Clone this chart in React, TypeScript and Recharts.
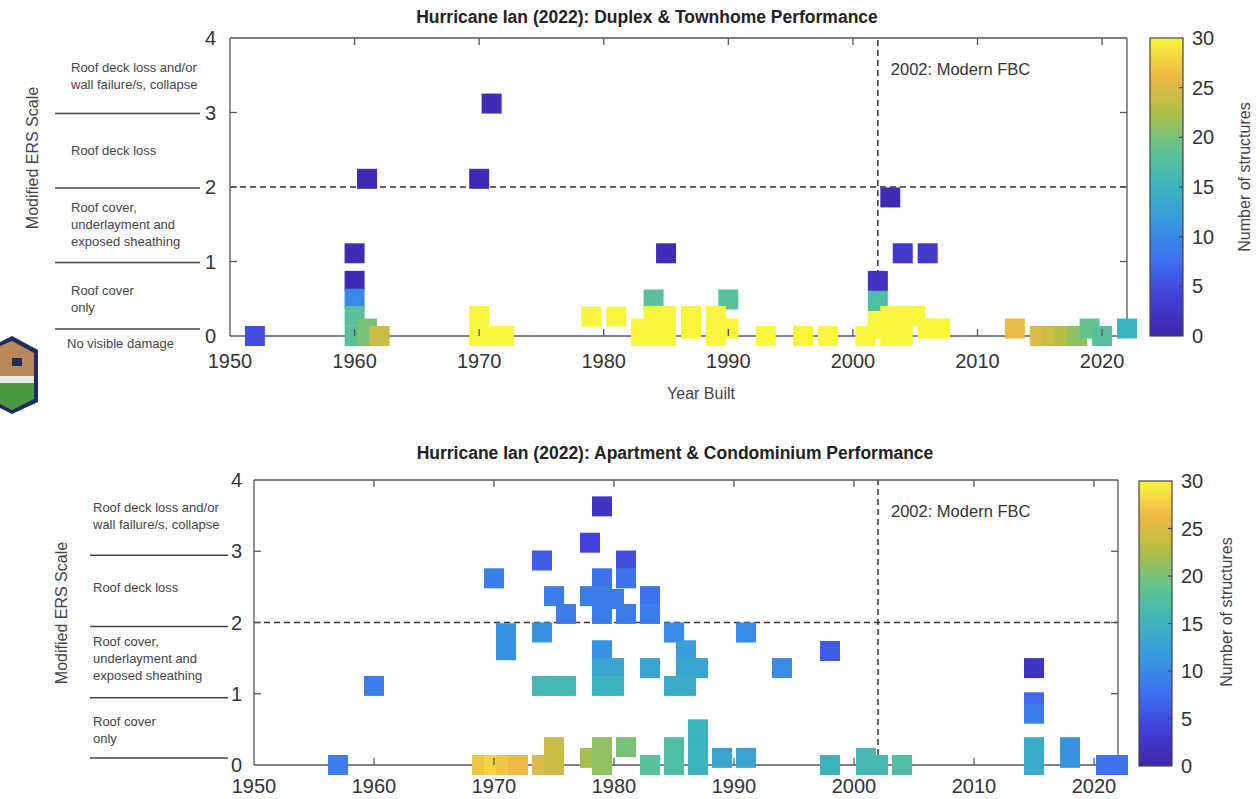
import React from "react";
import { ScatterChart, Scatter, XAxis, YAxis, ReferenceLine } from "recharts";

// axis ticks
const yearTicks = [1950, 1960, 1970, 1980, 1990, 2000, 2010, 2020];
const ersTicks = [0, 1, 2, 3, 4];
const countTicks = [0, 5, 10, 15, 20, 25, 30];

// damage categories for the modified ERS scale (bands between ticks)
const damageLabels = [
  ["Roof deck loss and/or", "wall failure/s, collapse"],
  ["Roof deck loss"],
  ["Roof cover,", "underlayment and", "exposed sheathing"],
  ["Roof cover", "only"],
];
const damageBandMid = [3.5, 2.5, 1.5, 0.5];

// Duplex & Townhome: year built, ERS rating, number of structures
const duplexYear = [
  1952,
  1960, 1960, 1960, 1960, 1960,
  1961, 1961, 1961, 1962,
  1970, 1971,
  1970, 1970, 1971, 1972,
  1979, 1981,
  1984, 1985,
  1983, 1983, 1984, 1984, 1985, 1985, 1985,
  1987, 1987,
  1990, 1989, 1989, 1989, 1990,
  1993, 1996, 1998, 2001,
  2002, 2002, 2002, 2002,
  2003, 2004, 2006,
  2003, 2003, 2004, 2004, 2005, 2006, 2007,
  2013, 2015, 2016, 2017, 2018, 2019, 2020, 2022,
];
const duplexErs = [
  0,
  1.11, 0.74, 0.5, 0.27, 0,
  2.11, 0.1, 0, 0,
  2.11, 3.12,
  0.27, 0, 0, 0,
  0.26, 0.26,
  0.49, 1.11,
  0.1, 0, 0.27, 0, 0.27, 0.1, 0,
  0.27, 0.1,
  0.49, 0.27, 0.1, 0, 0.1,
  0, 0, 0, 0,
  0.27, 0.1, 0.47, 0.74,
  1.86, 1.11, 1.11,
  0.27, 0, 0.27, 0, 0.27, 0.1, 0.1,
  0.1, 0, 0, 0, 0, 0.1, 0, 0.1,
];
const duplexCount = [
  5,
  1, 1, 10, 18, 18,
  1, 20, 20, 24,
  1, 1,
  30, 30, 30, 30,
  30, 30,
  18, 1,
  30, 30, 30, 30, 30, 30, 30,
  30, 30,
  18, 30, 30, 30, 30,
  30, 30, 30, 30,
  30, 30, 17, 2,
  1, 3, 3,
  30, 30, 30, 30, 30, 30, 30,
  26, 25, 24, 23, 21, 19, 18, 15,
];

// Apartment & Condominium: year built, ERS rating, number of structures
const aptYear = [
  1957, 1960,
  1970, 1971, 1971,
  1974, 1974, 1975, 1976,
  1974, 1975, 1976,
  1978, 1979, 1978,
  1979, 1979, 1979, 1980,
  1981, 1981, 1981, 1983, 1983,
  1979, 1979, 1979, 1980, 1980, 1983,
  1985, 1986, 1986, 1987, 1985, 1986,
  1991, 1994, 1998,
  2015, 2015, 2015,
  1969, 1970, 1971, 1972,
  1974, 1975, 1975,
  1978, 1979, 1979, 1981, 1983,
  1985, 1985, 1987, 1987, 1987,
  1989, 1991,
  1998, 2001, 2001, 2002, 2004,
  2015, 2015, 2018, 2018, 2021, 2022,
];
const aptErs = [
  0, 1.11,
  2.62, 1.85, 1.61,
  2.87, 1.86, 2.37, 2.12,
  1.11, 1.11, 1.11,
  3.12, 3.63, 2.37,
  2.62, 2.37, 2.12, 2.33,
  2.87, 2.62, 2.12, 2.37, 2.12,
  1.61, 1.36, 1.11, 1.36, 1.11, 1.36,
  1.86, 1.61, 1.36, 1.36, 1.11, 1.11,
  1.86, 1.36, 1.6,
  1.36, 0.88, 0.72,
  0, 0, 0, 0,
  0, 0.25, 0,
  0.1, 0.25, 0, 0.25, 0,
  0.25, 0, 0.5, 0.25, 0,
  0.1, 0.1,
  0, 0.1, 0, 0, 0,
  0.25, 0, 0.25, 0.1, 0, 0,
];
const aptCount = [
  9, 9,
  9, 11, 11,
  6, 11, 9, 9,
  16, 16, 16,
  4, 2, 9,
  8, 9, 9, 9,
  5, 8, 9, 8, 9,
  11, 13, 15, 13, 15, 13,
  10, 12, 13, 13, 14, 14,
  10, 10, 6,
  2, 7, 9,
  27, 28, 27, 26,
  25, 24, 24,
  22, 21, 21, 20, 18,
  17, 17, 15, 15, 15,
  13, 13,
  15, 16, 16, 16, 17,
  14, 14, 11, 11, 8, 8,
];

const duplexData = duplexYear.map((year, i) => ({ year, ers: duplexErs[i], count: duplexCount[i] }));
const aptData = aptYear.map((year, i) => ({ year, ers: aptErs[i], count: aptCount[i] }));

// parula-like colormap, 0..30 structures
const parulaStops = [
  [62, 38, 168],
  [66, 62, 215],
  [62, 110, 240],
  [55, 150, 225],
  [60, 180, 190],
  [95, 195, 145],
  [175, 190, 70],
  [240, 185, 70],
  [247, 246, 60],
];

function parula(n: number) {
  const t = Math.max(0, Math.min(1, n / 30)) * (parulaStops.length - 1);
  const i = Math.min(Math.floor(t), parulaStops.length - 2);
  const f = t - i;
  const a = parulaStops[i];
  const b = parulaStops[i + 1];
  const c = a.map((v, k) => Math.round(v + (b[k] - v) * f));
  return `rgb(${c[0]},${c[1]},${c[2]})`;
}

const FONT = "'Liberation Sans', Arial, Helvetica, sans-serif";
const AXIS = "#555";
const TEXT = "#333";
const X_MIN = 1950;
const X_MAX = 2022;

const Square = (props: any) => {
  const { cx, cy, payload } = props;
  if (cx == null || cy == null) return null;
  return <rect x={cx - 10} y={cy - 10} width={20} height={20} fill={parula(payload.count)} />;
};

const FbcLabel = (props: any) => {
  const vb = props.viewBox || { x: 0, y: 0 };
  return (
    <text x={vb.x + 13} y={vb.y + 37} fontSize={16.5} fill={TEXT} fontFamily={FONT}>
      2002: Modern FBC
    </text>
  );
};

type PanelProps = {
  top: number;
  height: number;
  plotL: number;
  plotR: number;
  plotT: number;
  plotB: number;
  yTickGap: number;
  xTickGap: number;
  data: any[];
};

function Panel({ top, height, plotL, plotR, plotT, plotB, yTickGap, xTickGap, data }: PanelProps) {
  const line = { stroke: AXIS, strokeWidth: 1.3 };
  return (
    <div style={{ position: "absolute", left: 0, top }}>
      <ScatterChart
        width={1260}
        height={height}
        margin={{ top: plotT - 1, left: plotL - 20, right: 1260 - plotR - 1, bottom: height - plotB - 30 }}
      >
        <XAxis
          dataKey="year"
          type="number"
          domain={[X_MIN, X_MAX]}
          ticks={yearTicks}
          interval={0}
          height={30}
          tickLine={false}
          tickMargin={xTickGap}
          tick={{ fontSize: 20, fill: TEXT, fontFamily: FONT }}
          axisLine={line}
        />
        <XAxis
          xAxisId="top"
          orientation="top"
          type="number"
          domain={[X_MIN, X_MAX]}
          allowDataOverflow
          ticks={yearTicks}
          height={1}
          tickLine={false}
          tick={false}
          axisLine={line}
        />
        <YAxis
          dataKey="ers"
          type="number"
          domain={[0, 4]}
          ticks={ersTicks}
          interval={0}
          width={20}
          tickLine={false}
          tickMargin={yTickGap}
          tick={{ fontSize: 20, fill: TEXT, fontFamily: FONT }}
          axisLine={line}
        />
        <YAxis
          yAxisId="right"
          orientation="right"
          type="number"
          domain={[0, 4]}
          allowDataOverflow
          ticks={ersTicks}
          width={1}
          tickLine={false}
          tick={false}
          axisLine={line}
        />
        <Scatter data={data} shape={Square} isAnimationActive={false} />
        <ReferenceLine y={2} stroke="#333" strokeWidth={1.5} strokeDasharray="6 4" />
        <ReferenceLine x={2002} stroke="#333" strokeWidth={1.5} strokeDasharray="6 4" label={<FbcLabel />} />
      </ScatterChart>
    </div>
  );
}

// inward box ticks, as MATLAB draws them
function BoxTicks({ plotL, plotR, plotT, plotB }: { plotL: number; plotR: number; plotT: number; plotB: number }) {
  const px = (v: number) => plotL + ((v - X_MIN) / (X_MAX - X_MIN)) * (plotR - plotL);
  const py = (v: number) => plotB - (v / 4) * (plotB - plotT);
  return (
    <g stroke={AXIS} strokeWidth={1.3}>
      {yearTicks.slice(1).map((v) => (
        <g key={v}>
          <line x1={px(v)} x2={px(v)} y1={plotB} y2={plotB - 7} />
          <line x1={px(v)} x2={px(v)} y1={plotT} y2={plotT + 7} />
        </g>
      ))}
      {ersTicks.slice(1, -1).map((v) => (
        <g key={v}>
          <line x1={plotL} x2={plotL + 7} y1={py(v)} y2={py(v)} />
          <line x1={plotR} x2={plotR - 7} y1={py(v)} y2={py(v)} />
        </g>
      ))}
    </g>
  );
}

type SideProps = {
  plotT: number;
  plotB: number;
  textX: number;
  lineX0: number;
  lineX1: number;
  lineShift: number;
  showNone: boolean;
};

function DamageScale({ plotT, plotB, textX, lineX0, lineX1, lineShift, showNone }: SideProps) {
  const py = (v: number) => plotB - (v / 4) * (plotB - plotT);
  return (
    <g fontFamily={FONT} fontSize={13} fill="#444">
      {[3, 2, 1, 0].map((v) => (
        <line
          key={v}
          x1={lineX0}
          x2={lineX1}
          y1={py(v) + (v === 0 ? -7 : lineShift)}
          y2={py(v) + (v === 0 ? -7 : lineShift)}
          stroke="#444"
          strokeWidth={1.6}
        />
      ))}
      {damageLabels.map((lines, i) => {
        const mid = py(damageBandMid[i]);
        const y0 = mid - ((lines.length - 1) * 17) / 2 + 5;
        return lines.map((s, k) => (
          <text key={`${i}-${k}`} x={textX} y={y0 + k * 17}>
            {s}
          </text>
        ));
      })}
      {showNone && (
        <text x={textX - 4} y={py(0) + 12}>
          No visible damage
        </text>
      )}
    </g>
  );
}

const gradientStops = parulaStops.map((_, i) => i / (parulaStops.length - 1));

function ColorBar({ id, x, y0, y1 }: { id: string; x: number; y0: number; y1: number }) {
  const w = 33;
  const py = (v: number) => y1 - (v / 30) * (y1 - y0);
  return (
    <g fontFamily={FONT}>
      <defs>
        <linearGradient id={id} x1="0" y1="1" x2="0" y2="0">
          {gradientStops.map((t, i) => (
            <stop key={i} offset={t} stopColor={parula(t * 30)} />
          ))}
        </linearGradient>
      </defs>
      <rect x={x} y={y0} width={w} height={y1 - y0} fill={`url(#${id})`} stroke="#444" strokeWidth={1.2} />
      {countTicks.map((v) => (
        <g key={v}>
          {v > 0 && v < 30 && <line x1={x + w - 4} x2={x + w} y1={py(v)} y2={py(v)} stroke="#444" strokeWidth={1.2} />}
          <text x={x + w + 9} y={py(v) + 7} fontSize={20} fill={TEXT}>
            {v}
          </text>
        </g>
      ))}
    </g>
  );
}

function Logo() {
  return (
    <g>
      <polygon points="12,336 38,350 38,402 12,414 0,408 0,342" fill="#1e2d5c" />
      <polygon points="12,341 34,353 34,376 0,376 0,346" fill="#b8875a" />
      <rect x={12} y={358} width={10} height={8} fill="#1e2d5c" />
      <rect x={0} y={376} width={34} height={7} fill="#e8e8e8" />
      <polygon points="0,383 34,383 34,399 12,410 0,404" fill="#4d9a42" />
    </g>
  );
}

export default function App() {
  return (
    <div style={{ position: "absolute", left: 0, top: 0, width: 1260, height: 799, background: "#fff", overflow: "hidden" }}>
      <Panel top={0} height={400} plotL={230} plotR={1127} plotT={38} plotB={336} yTickGap={8} xTickGap={12} data={duplexData} />
      <Panel top={430} height={369} plotL={254} plotR={1118} plotT={50} plotB={335} yTickGap={6} xTickGap={8} data={aptData} />
      <svg width={1260} height={799} style={{ position: "absolute", left: 0, top: 0, pointerEvents: "none" }}>
        <BoxTicks plotL={230} plotR={1127} plotT={38} plotB={336} />
        <BoxTicks plotL={254} plotR={1118} plotT={480} plotB={765} />

        <text x={647} y={23} textAnchor="middle" fontFamily={FONT} fontSize={17.5} fontWeight="bold" fill="#222">
          Hurricane Ian (2022): Duplex &amp; Townhome Performance
        </text>
        <text x={675} y={459} textAnchor="middle" fontFamily={FONT} fontSize={17.5} fontWeight="bold" fill="#222">
          Hurricane Ian (2022): Apartment &amp; Condominium Performance
        </text>

        <DamageScale plotT={38} plotB={336} textX={71} lineX0={55} lineX1={200} lineShift={1} showNone />
        <DamageScale plotT={480} plotB={765} textX={93} lineX0={90} lineX1={228} lineShift={4} showNone={false} />

        <text transform="translate(38,158) rotate(-90)" textAnchor="middle" fontFamily={FONT} fontSize={16} fill="#444">
          Modified ERS Scale
        </text>
        <text transform="translate(67,613) rotate(-90)" textAnchor="middle" fontFamily={FONT} fontSize={16} fill="#444">
          Modified ERS Scale
        </text>

        <text x={701} y={399} textAnchor="middle" fontFamily={FONT} fontSize={16} fill="#444">
          Year Built
        </text>

        <ColorBar id="cb1" x={1150} y0={38} y1={336} />
        <ColorBar id="cb2" x={1139} y0={481} y1={766} />

        <text transform="translate(1250,177) rotate(-90)" textAnchor="middle" fontFamily={FONT} fontSize={16} fill="#444">
          Number of structures
        </text>
        <text transform="translate(1232,612) rotate(-90)" textAnchor="middle" fontFamily={FONT} fontSize={16} fill="#444">
          Number of structures
        </text>

        <Logo />
      </svg>
    </div>
  );
}
